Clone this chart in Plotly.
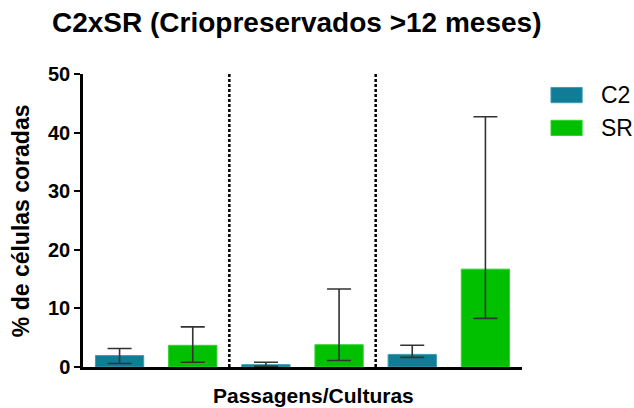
import plotly.graph_objects as go

# Data: mean % of stained cells with asymmetric error bars (upper / lower limits)
groups = ["P1", "P2", "P3"]
series_names = ["C2", "SR"]
c2_mean = [1.95, 0.4, 2.15]
c2_upper = [3.15, 0.8, 3.7]
c2_lower = [0.6, 0.1, 1.65]
sr_mean = [3.7, 3.8, 16.7]
sr_upper = [6.85, 13.3, 42.7]
sr_lower = [0.8, 1.1, 8.3]
y_ticks = [0, 10, 20, 30, 40, 50]

colors = {"C2": "#107c96", "SR": "#00c000"}
edge = {"C2": "#3f9bb1", "SR": "#33d033"}
FONT = "Liberation Sans, Arial, sans-serif"

fig = go.Figure()

# bar positions: C2 at 0,2,4 and SR at 1,3,5
c2_x = [2 * i for i in range(len(groups))]
sr_x = [2 * i + 1 for i in range(len(groups))]

for name, xs, mean, up, lo in [
    ("C2", c2_x, c2_mean, c2_upper, c2_lower),
    ("SR", sr_x, sr_mean, sr_upper, sr_lower),
]:
    fig.add_trace(go.Bar(
        x=xs, y=mean, name=name, width=0.66,
        marker=dict(color=colors[name], line=dict(color=edge[name], width=1)),
        error_y=dict(
            type="data", symmetric=False,
            array=[u - m for u, m in zip(up, mean)],
            arrayminus=[m - l for m, l in zip(mean, lo)],
            color="#333333", thickness=1.6, width=12,
        ),
        showlegend=False,
    ))

# dotted separators between passages
for xv in [1.5, 3.5]:
    fig.add_shape(type="line", xref="x", yref="y", x0=xv, x1=xv, y0=0, y1=50,
                  line=dict(color="black", width=2.5, dash="3px,2px"))

# legend drawn as wide swatches with labels
for i, name in enumerate(series_names):
    y_c = 0.928 - i * 0.112
    fig.add_shape(type="rect", xref="paper", yref="paper",
                  x0=1.066, x1=1.137, y0=y_c - 0.026, y1=y_c + 0.026,
                  fillcolor=colors[name], line=dict(color=edge[name], width=1))
    fig.add_annotation(xref="paper", yref="paper", x=1.175, y=y_c,
                       text=name, showarrow=False, xanchor="left", yanchor="middle",
                       font=dict(family=FONT, size=23, color="black"))

fig.add_annotation(xref="paper", yref="paper", x=0.486, y=1.175,
                   text="C2xSR (Criopreservados >12 meses)", showarrow=False,
                   xanchor="center", yanchor="middle",
                   font=dict(family=FONT, size=28, color="black", weight="bold"))

fig.add_annotation(xref="paper", yref="paper", x=0.526, y=-0.096,
                   text="Passagens/Culturas", showarrow=False,
                   xanchor="center", yanchor="middle",
                   font=dict(family=FONT, size=21, color="black", weight="bold"))

fig.add_annotation(xref="paper", yref="paper", x=-0.141, y=0.498,
                   text="% de células coradas", showarrow=False,
                   textangle=-90, xanchor="center", yanchor="middle",
                   font=dict(family=FONT, size=23, color="black", weight="bold"))

fig.update_layout(
    width=634, height=408,
    margin=dict(l=83, r=112, t=74, b=41),
    paper_bgcolor="white", plot_bgcolor="white",
    barmode="overlay",
    xaxis=dict(range=[-0.5, 5.5], showticklabels=False, ticks="",
               showgrid=False, zeroline=False,
               showline=True, linecolor="black", linewidth=2.5),
    yaxis=dict(range=[0, 50], tickvals=y_ticks,
               ticks="outside", ticklen=6,
               tickwidth=2, tickcolor="black", showgrid=False, zeroline=False,
               showline=True, linecolor="black", linewidth=2.5,
               tickfont=dict(family=FONT, size=20, color="black", weight="bold")),
)

fig.write_html("out.html")
